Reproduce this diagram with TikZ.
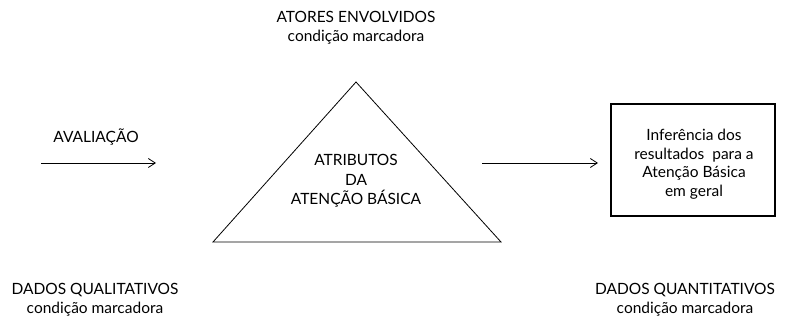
\documentclass[tikz,border=0pt]{standalone}
\usepackage{fontspec}
\setmainfont{Lato}
\usetikzlibrary{arrows.meta}
\begin{document}
\begin{tikzpicture}[x=1pt,y=-1pt,
  lbl/.style={align=center,font=\fontsize{15.5}{19.5}\selectfont,inner sep=0pt},
  arr/.style={line width=0.8pt,-{Straight Barb[length=7pt,width=9pt,line width=0.8pt]}},
  boxstyle/.style={draw,line width=1.4pt,minimum width=164pt,minimum height=112pt},
  boxtext/.style={align=center,inner sep=0pt,font=\fontsize{15.5}{18.5}\selectfont}]
\useasboundingbox (0,0) rectangle (787,320);
\node[lbl] (top) at (356,28) {ATORES ENVOLVIDOS\\condição marcadora};
\coordinate (A) at (356,82);
\coordinate (B) at (213,242);
\coordinate (C) at (501,242);
\draw[line width=0.8pt] (A) -- (B) -- (C) -- cycle;
\node[lbl] (attr) at (356,181) {ATRIBUTOS\\DA\\ATENÇÃO BÁSICA};
\node[lbl] (aval) at (96,137) {AVALIAÇÃO};
\coordinate (l1) at (41,163);
\coordinate (l2) at (156,163);
\draw[arr] (l1) -- (l2);
\node[boxstyle] (box) at (693,160) {};
\node[boxtext] (boxt) at (694,164) {Inferência dos\\resultados \ para a\\Atenção Básica\\em geral};
\coordinate (r1) at (482,163);
\coordinate (r2) at (598,163);
\draw[arr] (r1) -- (r2);
\node[lbl] (qual) at (95,300) {DADOS QUALITATIVOS\\condição marcadora};
\node[lbl] (quant) at (685,300) {DADOS QUANTITATIVOS\\condição marcadora};
\end{tikzpicture}
\end{document}
